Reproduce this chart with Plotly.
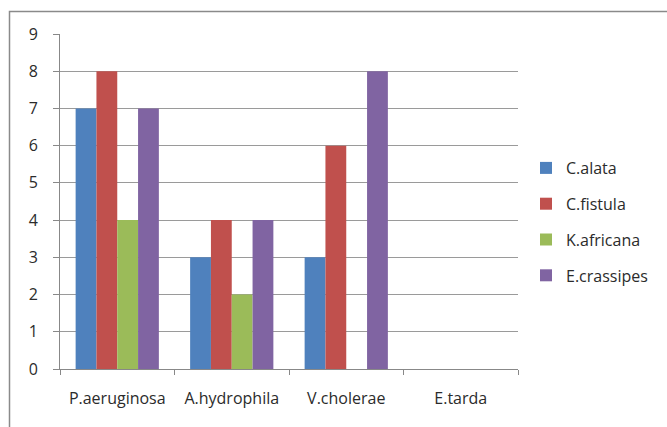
import plotly.graph_objects as go

# Bacterial strains on the x axis
strains = ["P.aeruginosa", "A.hydrophila", "V.cholerae", "E.tarda"]

# One series per plant extract
c_alata = [7, 3, 3, 0]
c_fistula = [8, 4, 6, 0]
k_africana = [4, 2, 0, 0]
e_crassipes = [7, 4, 8, 0]

series = [
    ("C.alata", c_alata, "#4F81BD"),
    ("C.fistula", c_fistula, "#C0504D"),
    ("K.africana", k_africana, "#9BBB59"),
    ("E.crassipes", e_crassipes, "#8064A2"),
]

FONT = "Open Sans, sans-serif"
TEXT = "#2b2b2b"
FS = 16

fig = go.Figure()
for name, vals, color in series:
    fig.add_trace(go.Bar(
        x=strains, y=vals, name=name, legendgroup=name,
        marker=dict(color=color, line=dict(width=0)),
    ))

W, H = 667, 427
L, R, T, B = 60, 149, 34, 58
pw, ph = W - L - R, H - T - B

def px_x(px):
    return (px - L) / pw

def px_y(py):
    return (H - B - py) / ph

fig.update_layout(
    width=W, height=H,
    margin=dict(l=L, r=R, t=T, b=B),
    paper_bgcolor="white", plot_bgcolor="white",
    barmode="group", bargap=0.273, bargroupgap=0,
    font=dict(family=FONT, size=FS, color=TEXT),
    showlegend=True,
    legend=dict(
        x=px_x(526), y=px_y(222), xanchor="left", yanchor="middle",
        font=dict(family=FONT, size=FS, color=TEXT),
        tracegroupgap=12, itemwidth=30,
        bgcolor="rgba(0,0,0,0)",
    ),
    xaxis=dict(
        type="category", tickson="boundaries",
        ticks="outside", ticklen=5, tickcolor="#888888",
        showline=True, linecolor="#888888", linewidth=1,
        showgrid=False, tickfont=dict(size=FS, color=TEXT),
        ticklabelstandoff=15,
    ),
    yaxis=dict(
        range=[0, 9], dtick=1, tick0=0,
        ticks="outside", ticklen=6, tickcolor="#888888",
        showline=True, linecolor="#888888", linewidth=1,
        showgrid=True, gridcolor="#9a9a9a", gridwidth=1,
        zeroline=False, tickfont=dict(size=FS, color=TEXT),
        ticklabelstandoff=12,
    ),
    shapes=[dict(
        type="rect", xref="paper", yref="paper",
        x0=px_x(9.5), x1=px_x(700), y0=px_y(460), y1=px_y(11.5),
        line=dict(color="#8a8a8a", width=1.5), fillcolor="rgba(0,0,0,0)",
        layer="below",
    )],
)

fig.write_html("out.html")
